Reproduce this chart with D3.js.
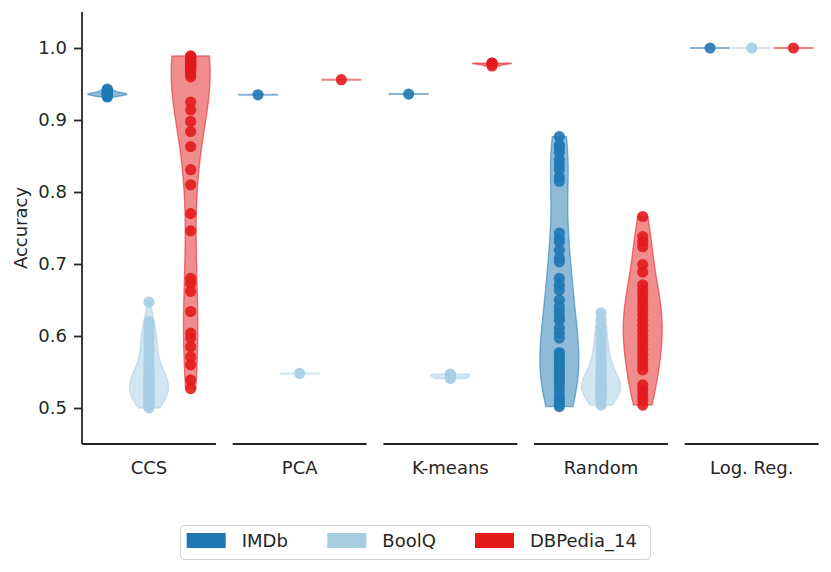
<!DOCTYPE html>
<html>
<head>
<meta charset="utf-8">
<script src="https://cdn.jsdelivr.net/npm/d3@7"></script>
<style>
  body { margin: 0; background: #fff; }
  text { font-family: "DejaVu Sans", sans-serif; fill: #262626; }
</style>
</head>
<body>
<div id="chart"></div>
<script>
// Methods (panels) and datasets (hues)
const methods = ["CCS", "PCA", "K-means", "Random", "Log. Reg."];
const datasets = ["IMDb", "BoolQ", "DBPedia_14"];
const colors = ["#1f78b4", "#a6cee3", "#e31a1c"];
const yTicks = [0.5, 0.6, 0.7, 0.8, 0.9, 1.0];

// Accuracy values
const ccsImdb = [0.943, 0.941, 0.940, 0.938, 0.937, 0.937, 0.936, 0.936, 0.936, 0.935, 0.935, 0.934, 0.933, 0.932];
const ccsBoolq = [0.647, 0.620, 0.614, 0.607, 0.600, 0.594, 0.588, 0.581, 0.574, 0.567, 0.561, 0.556, 0.551, 0.547,
  0.544, 0.541, 0.538, 0.536, 0.534, 0.532, 0.530, 0.528, 0.526, 0.524, 0.522, 0.520, 0.518, 0.515, 0.512, 0.509,
  0.506, 0.503, 0.500];
const ccsDbpedia = [0.989, 0.988, 0.987, 0.986, 0.985, 0.984, 0.983, 0.982, 0.981, 0.980, 0.979, 0.978, 0.977,
  0.976, 0.975, 0.974, 0.973, 0.971, 0.969, 0.967, 0.964, 0.960,
  0.925, 0.914, 0.898, 0.884, 0.863, 0.831, 0.810, 0.770, 0.746, 0.680, 0.673, 0.662, 0.634, 0.604, 0.597,
  0.585, 0.571, 0.560, 0.539, 0.527];
const pcaImdb = [0.935];
const pcaBoolq = [0.548];
const pcaDbpedia = [0.956];
const kmeansImdb = [0.936];
const kmeansBoolq = [0.547, 0.546, 0.543, 0.541];
const kmeansDbpedia = [0.979, 0.979, 0.978, 0.975];
const randomImdb = [0.877, 0.865, 0.861, 0.855, 0.845, 0.838, 0.831, 0.821, 0.815, 0.743, 0.735, 0.731, 0.719,
  0.708, 0.703, 0.680, 0.671, 0.664, 0.650, 0.641, 0.634, 0.627, 0.622, 0.611, 0.604, 0.597, 0.577, 0.574, 0.570,
  0.567, 0.563, 0.560, 0.555, 0.550, 0.545, 0.541, 0.536, 0.532, 0.525, 0.518, 0.513, 0.509, 0.505, 0.502];
const randomBoolq = [0.632, 0.622, 0.612, 0.603, 0.595, 0.587, 0.580, 0.573, 0.566, 0.560, 0.555, 0.550, 0.546,
  0.542, 0.539, 0.536, 0.534, 0.532, 0.530, 0.528, 0.527, 0.526, 0.524, 0.522, 0.520, 0.518, 0.515, 0.512, 0.508, 0.504];
const randomDbpedia = [0.766, 0.738, 0.731, 0.724, 0.699, 0.689, 0.671, 0.664, 0.657, 0.650, 0.643, 0.636, 0.629,
  0.622, 0.615, 0.608, 0.601, 0.594, 0.588, 0.581, 0.574, 0.567, 0.560, 0.553, 0.532, 0.525, 0.518, 0.511, 0.504];
const logregImdb = [1.0];
const logregBoolq = [1.0];
const logregDbpedia = [1.0];

// table: method -> [IMDb, BoolQ, DBPedia]
const table = [
  [ccsImdb, ccsBoolq, ccsDbpedia],
  [pcaImdb, pcaBoolq, pcaDbpedia],
  [kmeansImdb, kmeansBoolq, kmeansDbpedia],
  [randomImdb, randomBoolq, randomDbpedia],
  [logregImdb, logregBoolq, logregDbpedia]
];

const width = 831, height = 572;
const plotLeft = 82, plotRight = 818.7, plotTop = 12, plotBottom = 444;
const halfW = 19.5;  // max half width of a violin
const dotR = 5.6;

const svg = d3.select("#chart").append("svg")
  .attr("width", width)
  .attr("height", height);

const y = d3.scaleLinear().domain([0.45, 1.05]).range([plotBottom, plotTop]);

// one panel per method
const xPanel = d3.scaleBand().domain(methods).range([plotLeft, plotRight])
  .paddingInner(0.111).paddingOuter(0);
const xHue = d3.scalePoint().domain(datasets).range([0, xPanel.bandwidth()]).padding(0.607);

// gaussian kde with scott bandwidth, cut at the data range
function violinShape(values) {
  const n = values.length;
  const sd = n > 1 ? d3.deviation(values) : 0;
  if (!sd) return null;
  const bw = sd * Math.pow(n, -0.2);
  const lo = d3.min(values), hi = d3.max(values);
  const grid = d3.range(100).map(i => lo + (hi - lo) * i / 99);
  const dens = grid.map(g => d3.sum(values, v => Math.exp(-0.5 * ((g - v) / bw) ** 2)));
  const m = d3.max(dens);
  return grid.map((g, i) => ({ v: g, w: dens[i] / m }));
}

// ****************** Violins ***************************
methods.forEach((method, mi) => {
  const g = svg.append("g").attr("transform", `translate(${xPanel(method)},0)`);

  datasets.forEach((ds, di) => {
    const vals = table[mi][di];
    const cx = xHue(ds);
    const shape = violinShape(vals);
    if (shape) {
      const area = d3.area()
        .y(d => y(d.v))
        .x0(d => cx - d.w * halfW)
        .x1(d => cx + d.w * halfW);
      g.append("path")
        .attr("d", area(shape))
        .attr("fill", colors[di])
        .attr("fill-opacity", 0.5)
        .attr("stroke", colors[di])
        .attr("stroke-opacity", 0.55)
        .attr("stroke-width", 1.3);
    } else {
      // singular data: seaborn draws a horizontal line
      g.append("line")
        .attr("x1", cx - halfW - 0.5).attr("x2", cx + halfW + 0.5)
        .attr("y1", y(vals[0])).attr("y2", y(vals[0]))
        .attr("stroke", colors[di])
        .attr("stroke-opacity", 0.55)
        .attr("stroke-width", 2);
    }
  });

  // points on top
  datasets.forEach((ds, di) => {
    g.selectAll(null)
      .data(table[mi][di])
      .enter().append("circle")
      .attr("cx", xHue(ds))
      .attr("cy", d => y(d))
      .attr("r", dotR)
      .attr("fill", colors[di])
      .attr("fill-opacity", 0.9);
  });

  // bottom spine for this panel
  g.append("line")
    .attr("x1", 0).attr("x2", xPanel.bandwidth())
    .attr("y1", plotBottom).attr("y2", plotBottom)
    .attr("stroke", "#262626").attr("stroke-width", 1.8);

  g.append("text")
    .attr("x", xPanel.bandwidth() / 2)
    .attr("y", 474)
    .attr("text-anchor", "middle")
    .attr("font-size", 18)
    .text(method);
});

// ****************** Y axis ***************************
const yAxis = d3.axisLeft(y).tickValues(yTicks).tickFormat(d3.format(".1f"))
  .tickSize(8).tickPadding(7);
const ya = svg.append("g").attr("transform", `translate(${plotLeft},0)`).call(yAxis);
ya.select(".domain").attr("d", `M0,${plotTop}V${plotBottom}`).attr("stroke", "#262626").attr("stroke-width", 1.8);
ya.selectAll(".tick line").attr("stroke", "#262626").attr("stroke-width", 1.8);
ya.selectAll(".tick text").attr("font-size", 18).attr("font-family", "DejaVu Sans").attr("fill", "#262626");

svg.append("text")
  .attr("transform", `translate(27,${(plotTop + plotBottom) / 2}) rotate(-90)`)
  .attr("text-anchor", "middle")
  .attr("font-size", 18)
  .text("Accuracy");

// ****************** Legend ***************************
const legend = svg.append("g");
legend.append("rect")
  .attr("x", 180.5).attr("y", 525.5)
  .attr("width", 470).attr("height", 34)
  .attr("rx", 4)
  .attr("fill", "#fff")
  .attr("stroke", "#d0d0d0");
const legendX = [186.7, 327.3, 475];
datasets.forEach((ds, di) => {
  legend.append("rect")
    .attr("x", legendX[di]).attr("y", 533)
    .attr("width", 39).attr("height", 15)
    .attr("fill", colors[di]);
  legend.append("text")
    .attr("x", legendX[di] + 55)
    .attr("y", 547)
    .attr("font-size", 18)
    .text(ds);
});
</script>
</body>
</html>
